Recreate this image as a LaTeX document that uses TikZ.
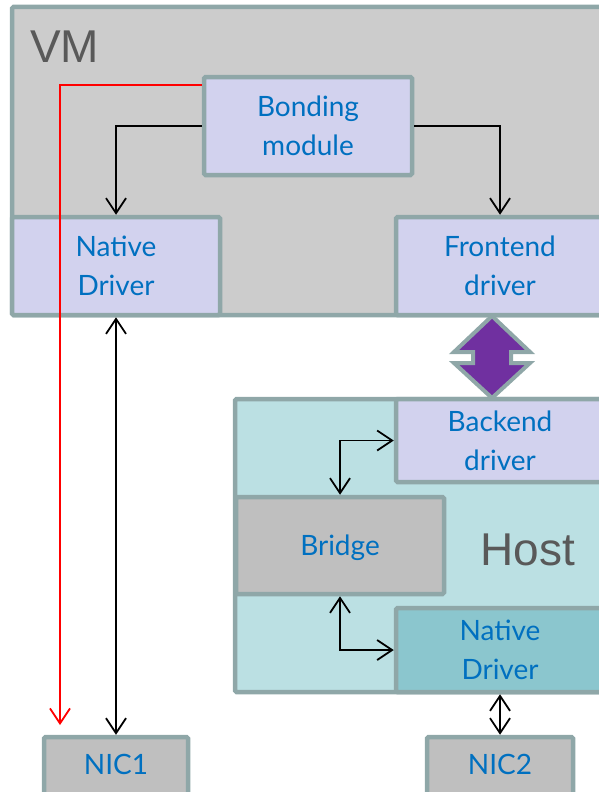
\documentclass[tikz,border=0pt]{standalone}
\usepackage{fontspec}
\setmainfont{Lato}
\newfontfamily\titlefont{Liberation Sans}
\usetikzlibrary{arrows.meta,calc}
\definecolor{edgegray}{HTML}{8FA7A8}
\definecolor{vmgray}{HTML}{CCCCCC}
\definecolor{lavender}{HTML}{D2D2EE}
\definecolor{hostcyan}{HTML}{BBE0E3}
\definecolor{boxgray}{HTML}{BFBFBF}
\definecolor{nativecyan}{HTML}{8BC6CE}
\definecolor{linkpurple}{HTML}{7030A0}
\definecolor{labelblue}{HTML}{0070C0}
\definecolor{titlegray}{HTML}{595959}
\begin{document}
\begin{tikzpicture}[x=1pt,y=-1pt,
  box/.style={draw=edgegray,line width=4.5pt,rounded corners=1.5pt,inner sep=0pt,
    text=labelblue,align=center,font=\fontsize{28}{39}\selectfont},
  region/.style={draw=edgegray,line width=4.5pt,rounded corners=1.5pt,inner sep=0pt},
  title/.style={text=titlegray,font=\titlefont\fontsize{46}{50}\selectfont,inner sep=0pt},
  link/.style={line width=1.8pt,{Straight Barb[length=15pt,width=20pt]}-{Straight Barb[length=15pt,width=20pt]}},
  feed/.style={line width=1.8pt,-{Straight Barb[length=15pt,width=20pt]}},
  fatarrow/.style={draw=edgegray,line width=4pt,fill=linkpurple,line join=miter}]
\useasboundingbox (0,0) rectangle (599,792);
\clip (0,0) rectangle (599,792);

% virtual machine
\node[region,fill=vmgray,minimum width=600pt,minimum height=308pt] (vm) at (312,161) {};
\node[title,anchor=west] (vmtitle) at (30,47) {VM};
\node[box,fill=lavender,minimum width=208pt,minimum height=98pt] (bond) at (308,126) {Bonding\\module};
\node[box,fill=lavender,minimum width=208pt,minimum height=98pt] (vnative) at (116,266) {Native\\Driver};
\node[box,fill=lavender,minimum width=208pt,minimum height=98pt] (front) at (500,266) {Frontend\\driver};

% host
\node[region,fill=hostcyan,minimum width=377pt,minimum height=293pt] (host) at (423.5,545.5) {};
\node[title] (hosttitle) at (528,550) {Host};
\node[box,fill=lavender,minimum width=208pt,minimum height=83pt] (back) at (500,440.5) {Backend\\driver};
\node[box,fill=boxgray,minimum width=208pt,minimum height=97pt,text depth=0pt] (bridge) at (340,545.5) {Bridge};
\node[box,fill=nativecyan,minimum width=208pt,minimum height=84pt] (hnative) at (500,650) {Native\\Driver};

% physical cards
\node[box,fill=boxgray,minimum width=144pt,minimum height=63pt,text depth=9pt] (nic1) at (116,768.5) {NIC1};
\node[box,fill=boxgray,minimum width=146pt,minimum height=63pt,text depth=9pt] (nic2) at (500,768.5) {NIC2};

% connectors
\draw[feed] (bond.west) -| (vnative.north);
\draw[feed] (bond.east) -| (front.north);
\coordinate (redend) at (60,725);
\draw[feed,red] ($(bond.north west)+(0,10)$) -| (redend);
\draw[link] (vnative.south) -- (nic1.north);
\draw[link] (bridge.north) |- (back.west);
\draw[link] (bridge.south) |- (hnative.west);
\draw[link] (hnative.south) -- (nic2.north);

% split-driver channel between frontend and backend
\coordinate (chan) at (492,357);
\draw[fatarrow] ($(chan)+(0,-41)$) -- ++(38,36) -- ++(-19,0) -- ++(0,11) -- ++(19,0)
  -- ++(-38,35) -- ++(-38,-35) -- ++(19,0) -- ++(0,-11) -- ++(-19,0) -- cycle;
\end{tikzpicture}
\end{document}
